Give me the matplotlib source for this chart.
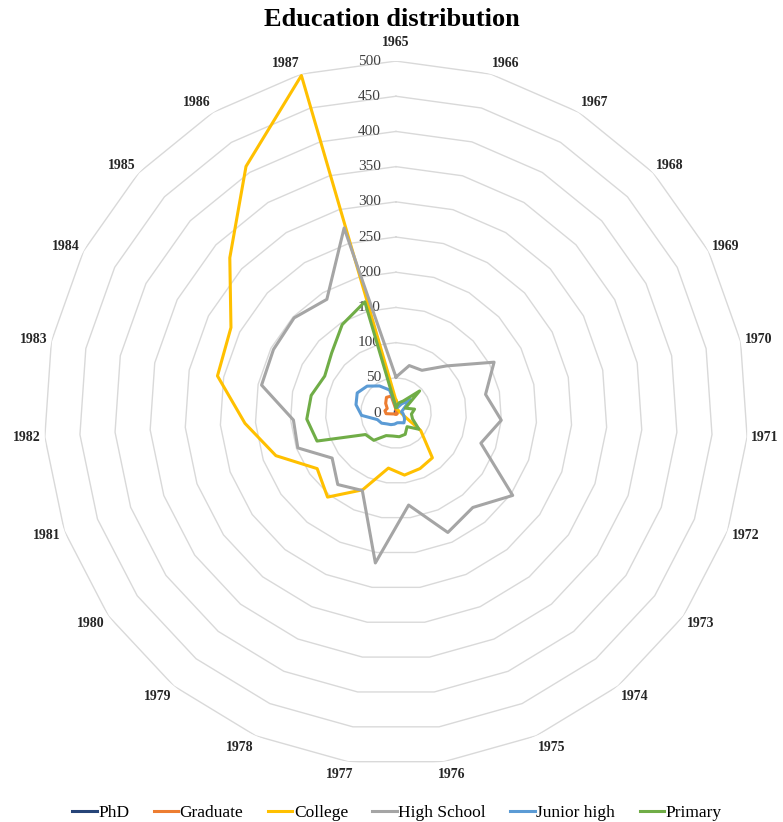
import numpy as np
import matplotlib.pyplot as plt
from matplotlib.transforms import offset_copy

plt.rcParams['font.family'] = ['Liberation Serif', 'DejaVu Serif']

# ── data ──
years = ["1965", "1966", "1967", "1968", "1969", "1970", "1971", "1972",
         "1973", "1974", "1975", "1976", "1977", "1978", "1979", "1980",
         "1981", "1982", "1983", "1984", "1985", "1986", "1987"]

phd = [8, 3, 1, 1, 1, 1, 1, 1, 1, 1, 1, 1,
       1, 1, 1, 1, 1, 1, 1, 1, 1, 2, 3]
graduate = [5, 3, 2, 2, 2, 2, 2, 2, 2, 2, 2, 2,
            2, 2, 2, 2, 4, 14, 16, 14, 20, 26, 25]
college = [18, 6, 5, 5, 5, 6, 8, 12, 43, 82, 86, 89,
           79, 119, 154, 137, 181, 215, 259, 264, 323, 410, 498]
high_school = [51, 70, 71, 98, 157, 130, 150, 128, 203, 173, 185, 132,
               215, 120, 131, 111, 148, 146, 195, 196, 198, 189, 273]
junior_high = [10, 8, 15, 28, 12, 8, 10, 12, 15, 18, 15, 14,
               16, 18, 20, 25, 28, 49, 58, 62, 56, 45, 34]
primary = [8, 15, 20, 46, 15, 27, 22, 25, 40, 25, 33, 34,
           33, 35, 50, 53, 119, 127, 123, 114, 125, 147, 164]

series = [
    ("PhD", phd, "#264478"),
    ("Graduate", graduate, "#ED7D31"),
    ("College", college, "#FFC000"),
    ("High School", high_school, "#A5A5A5"),
    ("Junior high", junior_high, "#5B9BD5"),
    ("Primary", primary, "#70AD47"),
]
rings = [50, 100, 150, 200, 250, 300, 350, 400, 450, 500]
rlabels = [0, 50, 100, 150, 200, 250, 300, 350, 400, 450, 500]

n = len(years)
angles = np.linspace(0, 2 * np.pi, n, endpoint=False)
closed = np.append(angles, angles[0])

fig = plt.figure(figsize=(7.83, 8.22), dpi=100)
ax = fig.add_axes([0.0562, 0.0693, 0.899, 0.8565], projection="polar")
ax.set_theta_offset(np.pi / 2)
ax.set_theta_direction(-1)
ax.set_ylim(0, 500)
ax.grid(False)
ax.spines["polar"].set_visible(False)
ax.set_xticks([])
ax.set_yticks([])

# polygon grid
for r in rings:
    ax.plot(closed, [r] * (n + 1), color="#d9d9d9", lw=1.0, zorder=0)

# category labels, pushed outward from the outer ring like Excel does
for ang, lab in zip(angles, years):
    s, c = np.sin(ang), np.cos(ang)
    dx = 4 * s + 14 * np.clip(4 * s, -1, 1)
    if abs(s) < 0.05:
        dy = 19 * c if c > 0 else 13 * c
    else:
        dy = 11 * c if c > 0 else 13 * c
    tr = offset_copy(ax.transData, fig=fig, x=dx, y=dy, units="dots")
    ax.text(ang, 500, lab, transform=tr, ha="center", va="center",
            fontsize=10, fontweight="bold", color="#262626")

# radial value labels
trans = offset_copy(ax.transData, fig=fig, x=-15, y=0, units="dots")
for r in rlabels:
    ax.text(0, r, str(r), transform=trans, ha="right", va="center",
            fontsize=11, color="#404040")

for name, vals, col in series:
    ax.plot(closed, vals + vals[:1], color=col, lw=2.2, label=name, zorder=3)

fig.text(0.5, 1 - 19 / 822, "Education distribution", ha="center", va="center",
         fontsize=19, fontweight="bold")
fig.legend(loc="lower center", bbox_to_anchor=(0.507, -0.018), ncol=6,
           frameon=False, fontsize=12.5, handlelength=1.4, handletextpad=0.1,
           columnspacing=1.4)

fig.savefig("out.png", dpi=100)
